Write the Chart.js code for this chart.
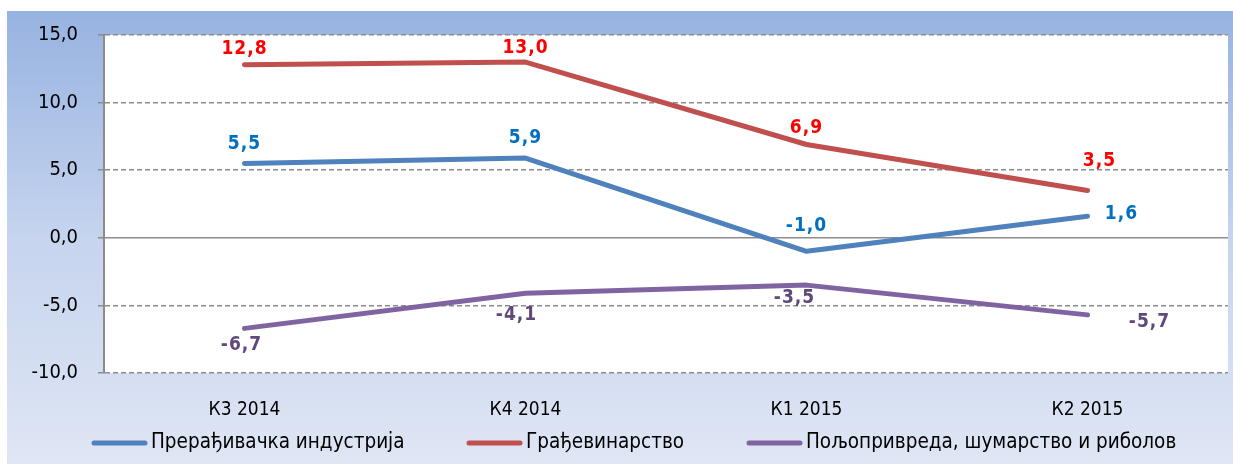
<!DOCTYPE html>
<html>
<head>
<meta charset="utf-8">
<script src="https://cdn.jsdelivr.net/npm/chart.js@4/dist/chart.umd.min.js"></script>
<style>
html,body{margin:0;padding:0;background:#fff;}
#wrap{position:relative;width:1233px;height:464px;}
</style>
</head>
<body>
<div id="wrap"><canvas id="c" width="1233" height="464"></canvas></div>
<script>
const categories = ['К3 2014', 'К4 2014', 'К1 2015', 'К2 2015'];
const seriesNames = ['Прерађивачка индустрија', 'Грађевинарство', 'Пољопривреда, шумарство и риболов'];
const manufacturing = [5.5, 5.9, -1.0, 1.6];
const construction = [12.8, 13.0, 6.9, 3.5];
const agriculture = [-6.7, -4.1, -3.5, -5.7];
const yTicks = [-10, -5, 0, 5, 10, 15];

const FONT = '"DejaVu Sans Condensed", "DejaVu Sans", sans-serif';
const lineColors = ['#4f81bd', '#c0504d', '#8064a2'];
const labelColors = ['#0070c0', '#ff0000', '#5f497a'];
// label offsets [dx, dy] relative to point, per series per point
const labelOffsets = [
  [[0,-19],[0,-20],[0,-25],[34,-2]],
  [[0,-16],[0,-14],[0,-16],[12,-29]],
  [[-3,17],[-9,22],[-12,13],[62,7]]
];
// legend item start x positions
const legendX = [94, 469, 749];

const fmt = v => v.toFixed(1).replace('.', ',');

const bgPlugin = {
  id: 'bg',
  beforeDraw(chart) {
    const {ctx, chartArea: a} = chart;
    ctx.save();
    const g = ctx.createLinearGradient(0, 11, 0, 464);
    g.addColorStop(0, '#97b3e1');
    g.addColorStop(0.5, '#c6d4ee');
    g.addColorStop(1, '#dfe6f4');
    ctx.fillStyle = g;
    ctx.fillRect(7, 11, 1226, 453);
    ctx.fillStyle = '#ffffff';
    ctx.fillRect(a.left, a.top, a.right - a.left, a.bottom - a.top);
    ctx.restore();
  }
};

const labelPlugin = {
  id: 'vlabels',
  afterDatasetsDraw(chart) {
    const {ctx} = chart;
    ctx.save();
    ctx.font = 'bold 19px ' + FONT;
    ctx.letterSpacing = '1px';
    ctx.textAlign = 'center';
    ctx.textBaseline = 'middle';
    chart.data.datasets.forEach((ds, i) => {
      const meta = chart.getDatasetMeta(i);
      meta.data.forEach((pt, j) => {
        const off = labelOffsets[i][j];
        ctx.fillStyle = labelColors[i];
        ctx.fillText(fmt(ds.data[j]), pt.x + off[0], pt.y + off[1]);
      });
    });
    ctx.restore();
  }
};

const legendPlugin = {
  id: 'customLegend',
  afterDraw(chart) {
    const {ctx} = chart;
    ctx.save();
    ctx.font = '20.5px ' + FONT;
    ctx.textBaseline = 'middle';
    ctx.textAlign = 'left';
    const y = 443;
    const boxW = 55;
    chart.data.datasets.forEach((ds, i) => {
      const x = legendX[i];
      ctx.strokeStyle = ds.borderColor;
      ctx.lineWidth = 5;
      ctx.lineCap = 'round';
      ctx.beginPath();
      ctx.moveTo(x, y);
      ctx.lineTo(x + boxW - 4, y);
      ctx.stroke();
      ctx.fillStyle = '#000';
      ctx.fillText(ds.label, x + boxW + 2, y);
    });
    ctx.restore();
  }
};

const seriesData = [manufacturing, construction, agriculture];

new Chart(document.getElementById('c'), {
  type: 'line',
  data: {
    labels: categories,
    datasets: seriesData.map((d, i) => ({
      label: seriesNames[i],
      data: d,
      borderColor: lineColors[i],
      backgroundColor: lineColors[i],
      borderWidth: 5,
      pointRadius: 0,
      tension: 0,
      borderCapStyle: 'round',
      borderJoinStyle: 'round'
    }))
  },
  options: {
    responsive: false,
    animation: false,
    devicePixelRatio: 1,
    layout: {padding: {left: 7, top: 35, right: 5, bottom: 40}},
    plugins: {
      legend: {display: false},
      tooltip: {enabled: false}
    },
    scales: {
      x: {
        offset: true,
        grid: {display: false},
        border: {display: false},
        ticks: {font: {family: FONT, size: 19}, color: '#000', padding: 18},
        afterFit(s) { s.height = 51; }
      },
      y: {
        min: -10, max: 15,
        afterBuildTicks(s) { s.ticks = yTicks.map(v => ({value: v})); },
        grid: {
          color: '#8c8c8c',
          lineWidth: 1.5,
          tickLength: 6,
          drawOnChartArea: true
        },
        border: {
          display: true,
          color: '#8c8c8c',
          width: 2,
          dash: ctx => (ctx.tick && ctx.tick.value === 0) ? [] : [5, 3]
        },
        ticks: {
          font: {family: FONT, size: 20},
          color: '#000',
          padding: 20,
          callback: v => fmt(v)
        },
        afterFit(s) { s.width = 97; }
      }
    }
  },
  plugins: [bgPlugin, labelPlugin, legendPlugin]
});
</script>
</body>
</html>
